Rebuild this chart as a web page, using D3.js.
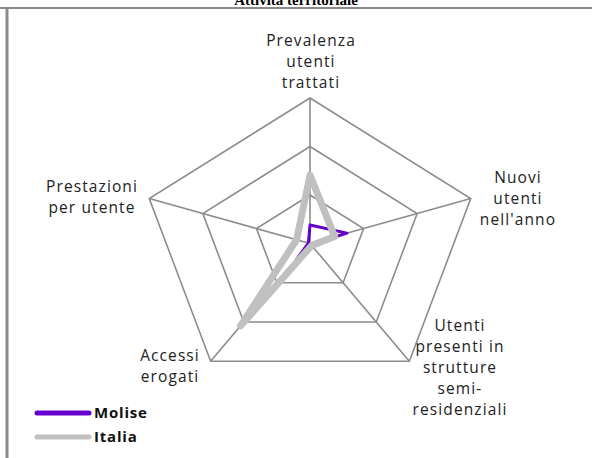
<!DOCTYPE html>
<html>
<head>
<meta charset="utf-8">
<script src="https://cdn.jsdelivr.net/npm/d3@7"></script>
<style>
  body { margin: 0; background: #fff; }
  svg { display: block; }
  .lbl { font-family: "Open Sans", "Noto Sans", sans-serif; font-size: 15.5px; letter-spacing: 1.1px; fill: #222; }
</style>
</head>
<body>
<div id="chart"></div>
<script>
// Assi del radar (in senso orario dall'alto)
const axes = [
  "Prevalenza\nutenti\ntrattati",
  "Nuovi\nutenti\nnell'anno",
  "Utenti\npresenti in\nstrutture\nsemi-\nresidenziali",
  "Accessi\nerogati",
  "Prestazioni\nper utente"
];
const molise = [0.38, 0.69, 0.03, 0.41, 0.03];
const italia = [1.41, 0.46, 0.05, 2.1, 0.25];
const gridLevels = [1, 2, 3];
const seriesNames = ["Molise", "Italia"];

const W = 592, H = 458;
const svg = d3.select("#chart").append("svg").attr("width", W).attr("height", H);

// titolo (tagliato in alto come nell'originale)
svg.append("text")
  .attr("x", 296).attr("y", 5)
  .attr("text-anchor", "middle")
  .style("font-family", "'Liberation Serif', serif")
  .style("font-weight", "bold").style("font-size", "15px")
  .text("Attività territoriale");

// cornice
svg.append("line").attr("x1", 0).attr("x2", W).attr("y1", 8).attr("y2", 8)
  .attr("stroke", "#8a8a8a").attr("stroke-width", 2);
svg.append("line").attr("x1", 7).attr("x2", 7).attr("y1", 8).attr("y2", H)
  .attr("stroke", "#8a8a8a").attr("stroke-width", 3);

const cx = 310, cy = 243.5;
const rx = d3.scaleLinear().domain([0, 3]).range([0, 169]);
const ry = d3.scaleLinear().domain([0, 3]).range([0, 145.5]);
const ang = i => -Math.PI / 2 + i * 2 * Math.PI / axes.length;
const pt = (v, i) => [cx + rx(v) * Math.cos(ang(i)), cy + ry(v) * Math.sin(ang(i))];

const g = svg.append("g");

// griglia
gridLevels.forEach(l => {
  g.append("path")
    .attr("d", d3.line()(axes.map((a, i) => pt(l, i))) + "Z")
    .attr("fill", "none").attr("stroke", "#8c8c8c").attr("stroke-width", 1.6);
});
axes.forEach((a, i) => {
  const [x2, y2] = pt(3, i);
  g.append("line").attr("x1", cx).attr("y1", cy).attr("x2", x2).attr("y2", y2)
    .attr("stroke", "#8c8c8c").attr("stroke-width", 1.6);
});

// serie
const radarLine = d3.line().x(d => d[0]).y(d => d[1]);
g.append("path")
  .attr("d", radarLine(molise.map(pt)) + "Z")
  .attr("fill", "none").attr("stroke", "#6600cc").attr("stroke-width", 3)
  .attr("stroke-linejoin", "round");
g.append("path")
  .attr("d", radarLine(italia.map(pt)) + "Z")
  .attr("fill", "none").attr("stroke", "#c0c0c0").attr("stroke-width", 7)
  .attr("stroke-linejoin", "round");

// etichette degli assi
const labelPos = [
  { x: 311, y: 46 },
  { x: 518, y: 183 },
  { x: 460, y: 331 },
  { x: 170, y: 361 },
  { x: 92, y: 192 }
];
const lineH = 21;
axes.forEach((a, i) => {
  const t = svg.append("text").attr("class", "lbl").attr("text-anchor", "middle");
  a.split("\n").forEach((s, k) => {
    t.append("tspan").attr("x", labelPos[i].x).attr("y", labelPos[i].y + k * lineH).text(s);
  });
});

// legenda
const legColors = ["#6600cc", "#c0c0c0"];
seriesNames.forEach((n, i) => {
  const y = 413 + i * 24;
  svg.append("line").attr("x1", 37).attr("x2", 89).attr("y1", y).attr("y2", y)
    .attr("stroke", legColors[i]).attr("stroke-width", 5).attr("stroke-linecap", "round");
  svg.append("text").attr("x", 94).attr("y", y + 5)
    .style("font-family", "'Open Sans', sans-serif").style("font-weight", "bold")
    .style("font-size", "15px").style("letter-spacing", "0.8px")
    .style("fill", "#111").text(n);
});
</script>
</body>
</html>
